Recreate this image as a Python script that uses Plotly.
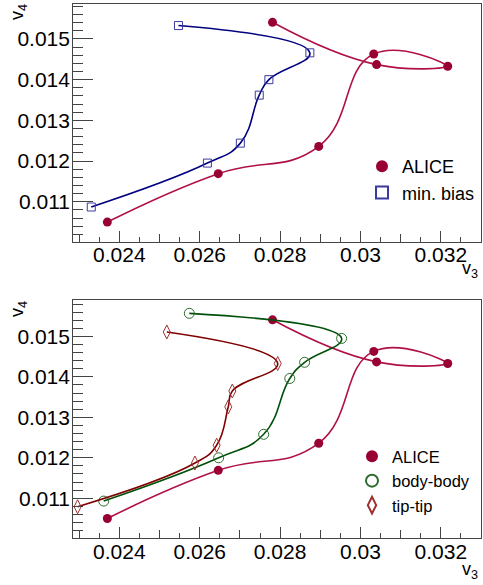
import plotly.graph_objects as go

# ---------------- data ----------------
v3_alice = [0.02370, 0.02646, 0.02896, 0.03033, 0.03217, 0.03040, 0.02781]
v4_alice = [0.01050, 0.01169, 0.01236, 0.01463, 0.01433, 0.01437, 0.01541]

v3_minbias = [0.02330, 0.02619, 0.02701, 0.02748, 0.02772, 0.02874, 0.02547]
v4_minbias = [0.01087, 0.01195, 0.01244, 0.01362, 0.01400, 0.01466, 0.01533]

v3_bodybody = [0.02361, 0.02647, 0.02759, 0.02824, 0.02861, 0.02953, 0.02574]
v4_bodybody = [0.01093, 0.01200, 0.01258, 0.01396, 0.01436, 0.01495, 0.01557]

v3_tiptip = [0.02296, 0.02588, 0.02642, 0.02671, 0.02681, 0.02794, 0.02518]
v4_tiptip = [0.01079, 0.01187, 0.01231, 0.01326, 0.01365, 0.01433, 0.01511]

# ---------------- style ----------------
FONT = "Liberation Sans, Arial, Helvetica, sans-serif"
C_ALICE_M, C_ALICE_L = "#990033", "#b01048"
C_MB_M, C_MB_L = "#3a3aa0", "#000080"
C_BB_M, C_BB_L = "#2e6b2e", "#00500a"
C_TT_M, C_TT_L = "#a03030", "#800000"
FRAME = "#444444"

XR = [0.02285, 0.03300]
YR_TOP = [0.01001, 0.01586]
YR_BOT = [0.01001, 0.01590]
XDOM = [0.1515, 0.996]
YDOM_TOP = [1 - 242 / 585, 1 - 4 / 585]
YDOM_BOT = [1 - 538.3 / 585, 1 - 300 / 585]

fig = go.Figure()


def add_series(x, y, xa, ya, name, mcol, lcol, symbol, size, legend, filled=False):
    fig.add_trace(go.Scatter(x=x, y=y, mode="lines", xaxis=xa, yaxis=ya,
                             line=dict(color=lcol, width=1.6, shape="spline", smoothing=1.3),
                             showlegend=False, hoverinfo="skip"))
    fig.add_trace(go.Scatter(x=x, y=y, mode="markers", xaxis=xa, yaxis=ya, name=name,
                             legend=legend,
                             marker=dict(symbol=symbol, size=size, color=mcol,
                                         line=dict(color=mcol, width=0 if filled else 1))))


# top panel
add_series(v3_alice, v4_alice, "x", "y", "ALICE", C_ALICE_M, C_ALICE_L, "circle", 9, "legend", True)
add_series(v3_minbias, v4_minbias, "x", "y", "min. bias", C_MB_M, C_MB_L, "square-open", 8, "legend")
# bottom panel
add_series(v3_alice, v4_alice, "x2", "y2", "ALICE", C_ALICE_M, C_ALICE_L, "circle", 9, "legend2", True)
add_series(v3_bodybody, v4_bodybody, "x2", "y2", "body-body", C_BB_M, C_BB_L, "circle-open", 10, "legend2")
add_series(v3_tiptip, v4_tiptip, "x2", "y2", "tip-tip", C_TT_M, C_TT_L, "diamond-tall-open", 10, "legend2")

# invisible traces so medium-tick overlay axes are drawn
fig.add_trace(go.Scatter(x=[], y=[], xaxis="x3", yaxis="y", showlegend=False))
fig.add_trace(go.Scatter(x=[], y=[], xaxis="x4", yaxis="y2", showlegend=False))

tickfont = dict(family=FONT, size=21, color="black")


def xaxis(anchor):
    return dict(domain=XDOM, range=XR, anchor=anchor, showgrid=False, zeroline=False,
                showline=True, linecolor=FRAME, linewidth=1, mirror=True,
                ticks="inside", ticklen=11, tickcolor=FRAME, tickwidth=1,
                tick0=0, dtick=0.002, tickfont=tickfont, ticklabelstandoff=-6,
                minor=dict(ticks="inside", ticklen=5, tick0=0, dtick=0.0005,
                           tickcolor=FRAME, tickwidth=1, showgrid=False))


def yaxis(anchor, dom, rng):
    return dict(domain=dom, range=rng, anchor=anchor, showgrid=False, zeroline=False,
                showline=True, linecolor=FRAME, linewidth=1, mirror=True,
                ticks="inside", ticklen=20, tickcolor=FRAME, tickwidth=1,
                tick0=0, dtick=0.001, tickfont=tickfont, ticklabelstandoff=-2,
                minor=dict(ticks="inside", ticklen=10, tick0=0, dtick=0.0002,
                           tickcolor=FRAME, tickwidth=1, showgrid=False))


def mid_axis(overlay, anchor):
    return dict(overlaying=overlay, anchor=anchor, range=XR, showgrid=False, zeroline=False,
                showline=False, showticklabels=False, ticks="inside", ticklen=8,
                tickcolor=FRAME, tickwidth=1, tick0=0.001, dtick=0.002, side="bottom")


legend_common = dict(bgcolor="rgba(0,0,0,0)", borderwidth=0, xanchor="left", yanchor="top",
                     tracegroupgap=0, itemsizing="constant")

annot_font = dict(family=FONT, size=18, color="black")

fig.update_layout(
    width=483, height=585,
    margin=dict(l=0, r=0, t=0, b=0),
    paper_bgcolor="white", plot_bgcolor="white",
    font=dict(family=FONT, color="black"),
    xaxis=xaxis("y"),
    yaxis=yaxis("x", YDOM_TOP, YR_TOP),
    xaxis2=xaxis("y2"),
    yaxis2=yaxis("x2", YDOM_BOT, YR_BOT),
    xaxis3=mid_axis("x", "y"),
    xaxis4=mid_axis("x2", "y2"),
    legend=dict(x=362 / 483, y=1 - 148 / 585, font=dict(family=FONT, size=18), **legend_common),
    legend2=dict(x=352 / 483, y=1 - 439 / 585, font=dict(family=FONT, size=16.5), **legend_common),
    annotations=[
        dict(text="v<sub>4</sub>", textangle=-90, x=18 / 483, y=1 - 12 / 585, xref="paper", yref="paper",
             showarrow=False, font=annot_font, xanchor="center", yanchor="middle"),
        dict(text="v<sub>3</sub>", x=480 / 483, y=1 - 283 / 585, xref="paper", yref="paper",
             showarrow=False, font=annot_font, xanchor="right", yanchor="bottom"),
        dict(text="v<sub>4</sub>", textangle=-90, x=18 / 483, y=1 - 309 / 585, xref="paper", yref="paper",
             showarrow=False, font=annot_font, xanchor="center", yanchor="middle"),
        dict(text="v<sub>3</sub>", x=480 / 483, y=1 - 584 / 585, xref="paper", yref="paper",
             showarrow=False, font=annot_font, xanchor="right", yanchor="bottom"),
    ],
)

fig.write_html("out.html")
